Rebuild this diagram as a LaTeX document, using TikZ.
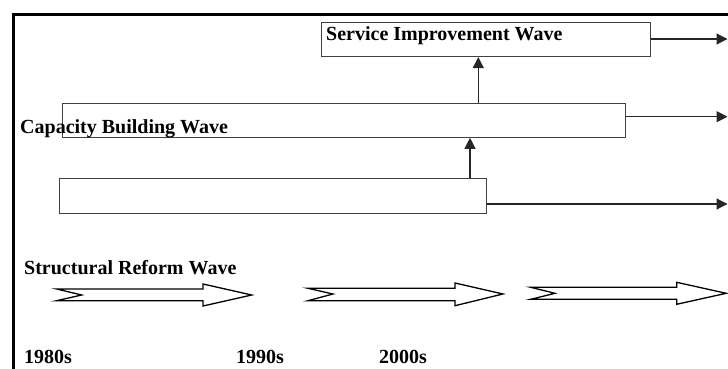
\documentclass[tikz,border=0pt]{standalone}
\usepackage{fontspec}
\setmainfont{Liberation Serif}
\usetikzlibrary{arrows.meta}
\begin{document}
\begin{tikzpicture}[x=1pt,y=-1pt,
  wavebox/.style={draw=black!75, line width=1.1pt, rectangle, anchor=north west, inner sep=0pt},
  lbl/.style={font=\fontsize{20}{22}\selectfont\bfseries, anchor=base west, inner sep=0pt},
  conn/.style={draw=black!85, line width=1.2pt, -{Triangle[length=11pt,width=11pt]}},
  blockarr/.style={draw=black, line width=1.3pt, fill=white, line join=miter}
]
\useasboundingbox (0,0) rectangle (728,369);
% frame
\draw[line width=2.6pt] (13.5,369) -- (13.5,14.3) -- (728,14.3);

% boxes
\node[wavebox, minimum width=329pt, minimum height=34pt] (svc) at (321,22) {};
\node[wavebox, minimum width=563pt, minimum height=34pt] (cap) at (62,102.7) {};
\node[wavebox, minimum width=427pt, minimum height=35pt] (low) at (59.3,178.3) {};

% labels
\node[lbl] (svct) at (326,41) {Service Improvement Wave};
\node[lbl] (capt) at (20,133) {Capacity Building Wave};
\node[lbl] (strt) at (24,274.3) {Structural Reform Wave};
\node[lbl] (d80) at (24,363) {1980s};
\node[lbl] (d90) at (236,363) {1990s};
\node[lbl] (d00) at (379,363) {2000s};

% free ends and connector positions
\coordinate (e1) at (727.5,39);
\coordinate (e2) at (727.5,116.7);
\coordinate (e3) at (727.5,204);
\coordinate (u1) at (478.3,0);
\coordinate (u2) at (470,0);

\draw[conn] (svc.east |- e1) -- (e1);
\draw[conn] (cap.east |- e2) -- (e2);
\draw[conn] (low.east |- e3) -- (e3);
\draw[conn] (cap.north -| u1) -- (svc.south -| u1);
\draw[conn] (low.north -| u2) -- (cap.south -| u2);

% block arrows (timeline)
\draw[blockarr] (56.7,289) -- (203,289) -- (203,284) -- (251.7,295) -- (203,306) -- (203,300.7) -- (56.7,300.7) -- (81.7,295) -- cycle;
\draw[blockarr] (308,288.3) -- (455,288.3) -- (455,283) -- (503,294) -- (455,305.7) -- (455,300.7) -- (308,300.7) -- (333,294) -- cycle;
\draw[blockarr] (530.7,287.3) -- (676.7,287.3) -- (676.7,282.3) -- (726.2,293.3) -- (676.7,304.3) -- (676.7,299.3) -- (530.7,299.3) -- (555,293.3) -- cycle;
\end{tikzpicture}
\end{document}
